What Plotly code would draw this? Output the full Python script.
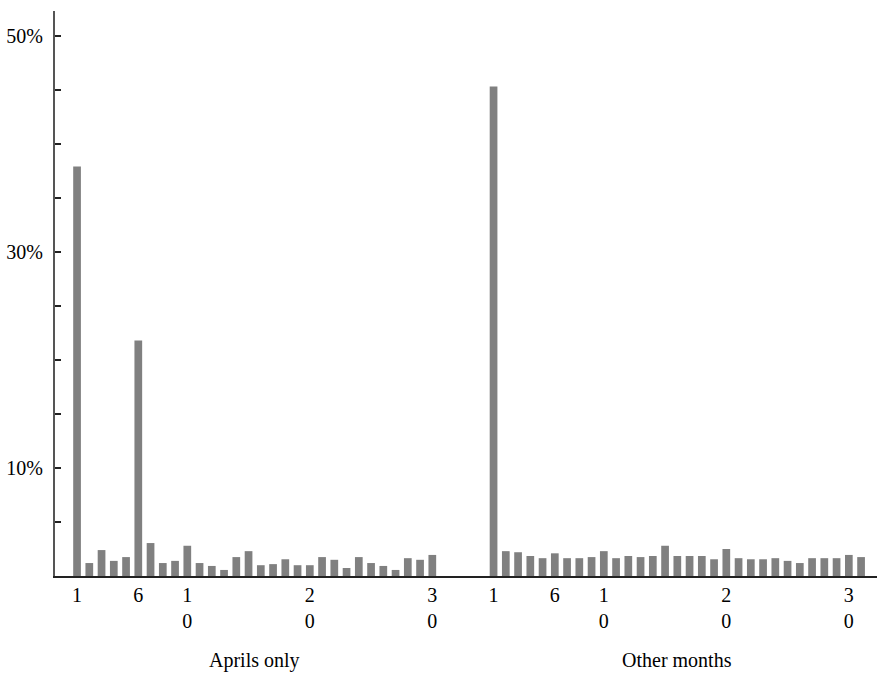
import plotly.graph_objects as go

# ---- data ----
april_days = list(range(1, 31))
april_pct = [37.9, 1.2, 2.4, 1.4, 1.75, 21.8, 3.05, 1.2, 1.4, 2.8,
             1.2, 0.93, 0.56, 1.75, 2.3, 1.0, 1.1, 1.55, 1.0, 1.0,
             1.75, 1.5, 0.74, 1.75, 1.2, 0.93, 0.56, 1.65, 1.5, 1.95]

other_days = list(range(1, 32))
other_pct = [45.3, 2.3, 2.2, 1.85, 1.65, 2.1, 1.65, 1.65, 1.75, 2.3,
             1.65, 1.85, 1.75, 1.85, 2.8, 1.85, 1.85, 1.85, 1.55, 2.5,
             1.65, 1.55, 1.55, 1.65, 1.4, 1.2, 1.65, 1.65, 1.65, 1.95, 1.75]

group_labels = ["Aprils only", "Other months"]
day_ticks = [1, 6, 10, 20, 30]
day_tick_text = ["1", "6", "1<br>0", "2<br>0", "3<br>0"]
y_label_vals = [10, 30, 50]

OFFSET = 34  # gap between the two groups on the shared axis
BAR_COLOR = "#808080"
FONT = "Liberation Serif, Times New Roman, serif"

x_april = [d for d in april_days]
x_other = [d + OFFSET for d in other_days]

fig = go.Figure()
fig.add_trace(go.Bar(x=x_april, y=april_pct, marker_color=BAR_COLOR,
                     marker_line_width=0, showlegend=False, width=0.63))
fig.add_trace(go.Bar(x=x_other, y=other_pct, marker_color=BAR_COLOR,
                     marker_line_width=0, showlegend=False, width=0.63))

tickvals = day_ticks + [d + OFFSET for d in day_ticks]
ticktext = day_tick_text + day_tick_text

ytickvals = list(range(5, 55, 5))
yticktext = [f"{v}%" if v in y_label_vals else "" for v in ytickvals]

fig.update_layout(
    width=877, height=673,
    margin=dict(l=55, r=0, t=11, b=97),
    plot_bgcolor="white", paper_bgcolor="white",
    font=dict(family=FONT, size=20, color="black"),
    xaxis=dict(range=[-0.8, 66.3], tickvals=tickvals, ticktext=ticktext,
               showgrid=False, zeroline=False, showline=True,
               linecolor="#222", linewidth=2, ticks="",
               tickfont=dict(family=FONT, size=20, color="black")),
    yaxis=dict(range=[0, 52.3], tickvals=ytickvals, ticktext=yticktext,
               showgrid=False, zeroline=False, showline=True,
               linecolor="#555", linewidth=2, ticks="inside", ticklen=6,
               tickcolor="#222", tickwidth=1.5, ticklabelstandoff=6,
               tickfont=dict(family=FONT, size=20, color="black")),
    annotations=[
        dict(x=(april_days[0] + april_days[-1]) / 2, y=-0.149, xref="x", yref="paper",
             text=group_labels[0], showarrow=False, yanchor="middle",
             font=dict(family=FONT, size=20, color="black")),
        dict(x=(other_days[0] + other_days[-1]) / 2 + OFFSET, y=-0.149, xref="x", yref="paper",
             text=group_labels[1], showarrow=False, yanchor="middle",
             font=dict(family=FONT, size=20, color="black")),
    ],
)

fig.write_html("out.html")
